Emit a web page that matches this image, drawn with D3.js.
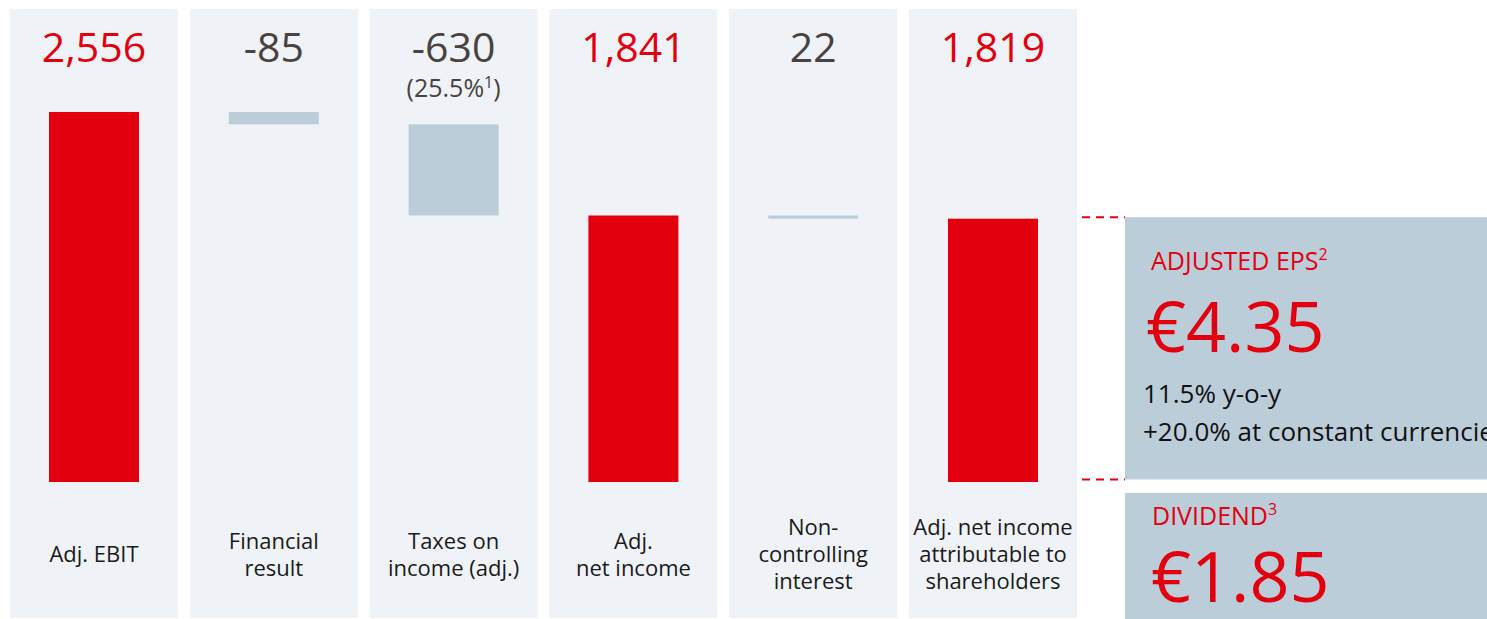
<!DOCTYPE html>
<html>
<head>
<meta charset="utf-8">
<script src="https://cdn.jsdelivr.net/npm/d3@7"></script>
<style>
  body { margin: 0; background: #fff; }
  svg { display: block; font-family: "Open Sans", "Noto Sans", sans-serif; }
</style>
</head>
<body>
<div class="chart"></div>
<script>
const width = 1487;
const height = 619;

// data
const categories = ['ebit', 'fin', 'tax', 'net', 'nci', 'share'];
const labels = [
  ['Adj. EBIT'],
  ['Financial', 'result'],
  ['Taxes on', 'income (adj.)'],
  ['Adj.', 'net income'],
  ['Non-', 'controlling', 'interest'],
  ['Adj. net income', 'attributable to', 'shareholders']
];
const values = [2556, -85, -630, 1841, -22, 1819];
const isTotal = [true, false, false, true, false, true];
const valueText = ['2,556', '-85', '-630', '1,841', '22', '1,819'];
const taxRateText = '(25.5%';
const taxRateNote = '1';

const epsTitle = 'ADJUSTED EPS';
const epsNote = '2';
const epsValue = '€4.35';
const epsLines = ['11.5% y-o-y', '+20.0% at constant currencies'];
const divTitle = 'DIVIDEND';
const divNote = '3';
const divValue = '€1.85';

const red = '#e2000f';
const grey = '#bccdda';
const panelBg = '#eff3f7';
const darkText = '#4a4240';

const svg = d3.select('div.chart').append('svg')
  .attr('width', width)
  .attr('height', height);

// waterfall start/end
let running = 0;
const bars = values.map((v, i) => {
  let start, end;
  if (isTotal[i]) {
    start = 0; end = v; running = v;
  } else {
    start = running; end = running + v; running = end;
  }
  return { key: categories[i], value: v, start, end, total: isTotal[i], label: labels[i], text: valueText[i] };
});

const x = d3.scaleBand()
  .domain(categories)
  .range([10, 1077])
  .paddingInner(0.0656);

const y = d3.scaleLinear()
  .domain([0, d3.max(values)])
  .range([482, 112]);

const barWidth = 90;

// panels
svg.append('g').selectAll('rect')
  .data(bars)
  .enter()
  .append('rect')
  .attr('x', d => x(d.key))
  .attr('y', 9)
  .attr('width', x.bandwidth())
  .attr('height', 609)
  .attr('fill', panelBg);

// bars
svg.append('g').selectAll('rect')
  .data(bars)
  .enter()
  .append('rect')
  .attr('x', d => x(d.key) + (x.bandwidth() - barWidth) / 2)
  .attr('y', d => y(Math.max(d.start, d.end)))
  .attr('width', barWidth)
  .attr('height', d => Math.abs(y(d.start) - y(d.end)))
  .attr('fill', d => d.total ? red : grey);

// value labels
svg.append('g').selectAll('text')
  .data(bars)
  .enter()
  .append('text')
  .attr('x', d => x(d.key) + x.bandwidth() / 2)
  .attr('y', 62)
  .attr('text-anchor', 'middle')
  .attr('font-size', 41)
  .attr('fill', d => d.total ? red : darkText)
  .text(d => d.text);

// tax rate under taxes value
const taxT = svg.append('text')
  .attr('x', x('tax') + x.bandwidth() / 2)
  .attr('y', 97)
  .attr('text-anchor', 'middle')
  .attr('font-size', 25)
  .attr('fill', darkText);
taxT.append('tspan').text(taxRateText);
taxT.append('tspan').attr('font-size', 16).attr('dy', -9).text(taxRateNote);
taxT.append('tspan').attr('dy', 9).text(')');

// category labels
const lineH = 27;
const catG = svg.append('g');
bars.forEach(d => {
  const n = d.label.length;
  const t = catG.append('text')
    .attr('text-anchor', 'middle')
    .attr('font-size', 22)
    .attr('fill', '#1a1a1a');
  d.label.forEach((line, i) => {
    t.append('tspan')
      .attr('x', x(d.key) + x.bandwidth() / 2)
      .attr('y', 562 + (i - (n - 1) / 2) * lineH)
      .text(line);
  });
});

// EPS box tied to the last bar
const last = bars[bars.length - 1];
const boxX = 1125;
const boxTop = y(last.end) - 1.5;
const boxBottom = y(0) - 2.5;

svg.append('rect')
  .attr('x', boxX)
  .attr('y', boxTop)
  .attr('width', 400)
  .attr('height', boxBottom - boxTop)
  .attr('fill', grey);

svg.append('g').selectAll('line')
  .data([boxTop, boxBottom])
  .enter()
  .append('line')
  .attr('x1', 1082)
  .attr('x2', boxX)
  .attr('y1', d => d)
  .attr('y2', d => d)
  .attr('stroke', red)
  .attr('stroke-width', 2)
  .attr('stroke-dasharray', '8,6');

const epsT = svg.append('text')
  .attr('x', 1151)
  .attr('y', 270)
  .attr('font-size', 25)
  .attr('fill', red);
epsT.append('tspan').text(epsTitle);
epsT.append('tspan').attr('font-size', 16).attr('dy', -10).text(epsNote);

svg.append('text')
  .attr('x', 1146)
  .attr('y', 352)
  .attr('font-size', 70)
  .attr('fill', red)
  .text(epsValue);

svg.append('g').selectAll('text')
  .data(epsLines)
  .enter()
  .append('text')
  .attr('x', 1143)
  .attr('y', (d, i) => 403 + i * 38)
  .attr('font-size', 26)
  .attr('fill', '#111')
  .text(d => d);

// dividend box
svg.append('rect')
  .attr('x', boxX)
  .attr('y', 493)
  .attr('width', 400)
  .attr('height', 130)
  .attr('fill', grey);

const divT = svg.append('text')
  .attr('x', 1152)
  .attr('y', 525)
  .attr('font-size', 25)
  .attr('fill', red);
divT.append('tspan').text(divTitle);
divT.append('tspan').attr('font-size', 16).attr('dy', -10).text(divNote);

svg.append('text')
  .attr('x', 1151)
  .attr('y', 602)
  .attr('font-size', 70)
  .attr('fill', red)
  .text(divValue);
</script>
</body>
</html>
